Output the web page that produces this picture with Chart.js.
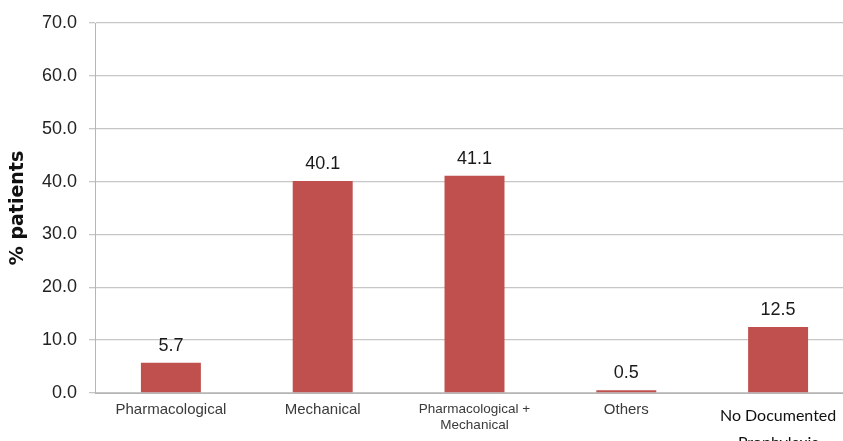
<!DOCTYPE html>
<html>
<head>
<meta charset="utf-8">
<script src="https://cdn.jsdelivr.net/npm/chart.js@4/dist/chart.umd.min.js"></script>
<style>
  html, body { margin: 0; padding: 0; background: #fff; overflow: hidden; }
  #wrap { position: relative; width: 860px; height: 441px; }
</style>
</head>
<body>
<div id="wrap"><canvas id="chart"></canvas></div>
<script>
// Thromboprophylaxis type, share of patients (%)
const categories = [
  'Pharmacological',
  'Mechanical',
  ['Pharmacological +', 'Mechanical'],
  'Others',
  ['No Documented', 'Prophylaxis']
];
const percentPatients = [5.7, 40.1, 41.1, 0.5, 12.5];
const yAxisMin = 0;
const yAxisMax = 70;
const yAxisStep = 10;
const yAxisTitle = '% patients';

const barColor = '#c0504d';

// Per-category label fonts (the last label uses a different face and spacing)
const xLabelFonts = [
  { family: 'Liberation Sans, Arial, sans-serif', size: 15, lineHeight: '15.5px' },
  { family: 'Liberation Sans, Arial, sans-serif', size: 15, lineHeight: '15.5px' },
  { family: 'Liberation Sans, Arial, sans-serif', size: 13.5, lineHeight: '15.5px' },
  { family: 'Liberation Sans, Arial, sans-serif', size: 15, lineHeight: '15.5px' },
  { family: 'Lato, sans-serif', size: 16, lineHeight: '27px' }
];
const xLabelColors = ['#3a3a3a', '#3a3a3a', '#3a3a3a', '#3a3a3a', '#111111'];

// Writes each bar's value just above it
const barValueLabels = {
  id: 'barValueLabels',
  afterDatasetsDraw(chart) {
    const ctx = chart.ctx;
    const meta = chart.getDatasetMeta(0);
    ctx.save();
    ctx.font = '18px "Liberation Sans", Arial, sans-serif';
    ctx.fillStyle = '#1a1a1a';
    ctx.textAlign = 'center';
    ctx.textBaseline = 'alphabetic';
    meta.data.forEach((bar, i) => {
      const v = chart.data.datasets[0].data[i];
      ctx.fillText(v.toFixed(1), bar.x, bar.y - 12);
    });
    ctx.restore();
  }
};

new Chart(document.getElementById('chart'), {
  type: 'bar',
  data: {
    labels: categories,
    datasets: [{
      data: percentPatients,
      backgroundColor: barColor,
      borderWidth: 0,
      categoryPercentage: 1.0,
      barPercentage: 0.395
    }]
  },
  options: {
    responsive: true,
    maintainAspectRatio: false,
    animation: false,
    layout: { padding: { top: 23, right: 6, bottom: 0, left: 0 } },
    plugins: {
      legend: { display: false },
      tooltip: { enabled: false }
    },
    scales: {
      x: {
        offset: true,
        grid: { display: false, drawTicks: false },
        border: { display: true, color: '#b5b5b5', width: 1 },
        ticks: {
          padding: 9,
          maxRotation: 0,
          autoSkip: false,
          color: (c) => xLabelColors[c.index],
          font: (c) => xLabelFonts[c.index]
        },
        afterFit(scale) { scale.height = 48; }
      },
      y: {
        min: yAxisMin,
        max: yAxisMax,
        ticks: {
          stepSize: yAxisStep,
          padding: 12,
          color: '#222222',
          font: { family: 'Liberation Sans, Arial, sans-serif', size: 18 },
          callback: (v) => Number(v).toFixed(1)
        },
        grid: { color: '#c6c6c6', lineWidth: 1.3, tickLength: 6 },
        border: { display: true, color: '#b5b5b5', width: 1 },
        title: {
          display: true,
          text: yAxisTitle,
          color: '#111111',
          padding: { top: 7, bottom: 0 },
          font: { family: 'DejaVu Sans, sans-serif', size: 19, weight: 'bold' }
        },
        afterFit(scale) { scale.width = 95; }
      }
    }
  },
  plugins: [barValueLabels]
});
</script>
</body>
</html>
